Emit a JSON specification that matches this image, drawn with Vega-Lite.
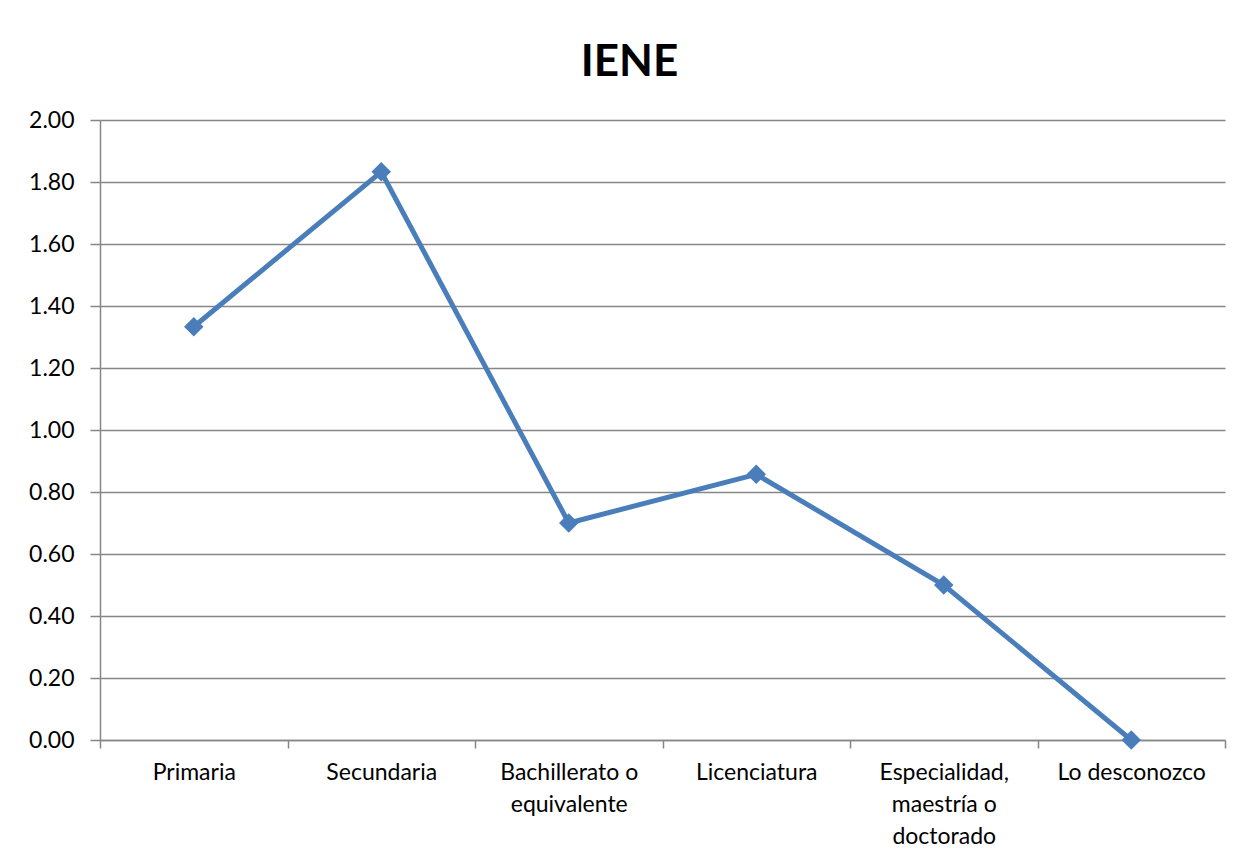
{
  "$schema": "https://vega.github.io/schema/vega-lite/v6.json",
  "width": 1125,
  "height": 620,
  "autosize": {"type": "none"},
  "padding": {"left": 100, "top": 120, "right": 18, "bottom": 125},
  "background": "white",
  "title": {
    "text": "IENE",
    "font": "Lato",
    "fontSize": 44,
    "fontWeight": "bold",
    "color": "#000000",
    "anchor": "middle",
    "frame": "group",
    "dx": -33,
    "offset": 24
  },
  "data": {
    "values": [
      {"nivel": "Primaria", "valor": 1.333},
      {"nivel": "Secundaria", "valor": 1.833},
      {"nivel": "Bachillerato o equivalente", "valor": 0.70},
      {"nivel": "Licenciatura", "valor": 0.857},
      {"nivel": "Especialidad, maestría o doctorado", "valor": 0.50},
      {"nivel": "Lo desconozco", "valor": 0.0}
    ]
  },
  "encoding": {
    "x": {
      "field": "nivel",
      "type": "nominal",
      "sort": null,
      "scale": {"paddingInner": 0, "paddingOuter": 0},
      "axis": {
        "title": null,
        "labelAngle": 0,
        "labelFont": "Lato",
        "labelFontSize": 23,
        "labelColor": "#000000",
        "labelPadding": 13,
        "labelLineHeight": 32,
        "labelExpr": "datum.label == 'Bachillerato o equivalente' ? ['Bachillerato o', 'equivalente'] : datum.label == 'Especialidad, maestría o doctorado' ? ['Especialidad,', 'maestría o', 'doctorado'] : datum.label",
        "tickBand": "extent",
        "tickSize": 8,
        "tickColor": "#868686",
        "tickWidth": 1.5,
        "domainColor": "#868686",
        "domainWidth": 1.5,
        "grid": false
      }
    },
    "y": {
      "field": "valor",
      "type": "quantitative",
      "scale": {"domain": [0, 2], "nice": false, "zero": true},
      "axis": {
        "title": null,
        "values": [0, 0.2, 0.4, 0.6, 0.8, 1.0, 1.2, 1.4, 1.6, 1.8, 2.0],
        "format": ".2f",
        "labelFont": "Lato",
        "labelFontSize": 23,
        "labelColor": "#000000",
        "labelPadding": 16,
        "tickSize": 10,
        "tickColor": "#868686",
        "tickWidth": 1.5,
        "domainColor": "#868686",
        "domainWidth": 1.5,
        "grid": true,
        "gridColor": "#868686",
        "gridWidth": 1.5,
        "gridOpacity": 1
      }
    }
  },
  "layer": [
    {
      "mark": {"type": "line", "color": "#4A7EBB", "strokeWidth": 5}
    },
    {
      "mark": {"type": "point", "shape": "diamond", "filled": true, "color": "#4A7EBB", "size": 380, "opacity": 1}
    }
  ],
  "config": {
    "view": {"stroke": null}
  }
}
